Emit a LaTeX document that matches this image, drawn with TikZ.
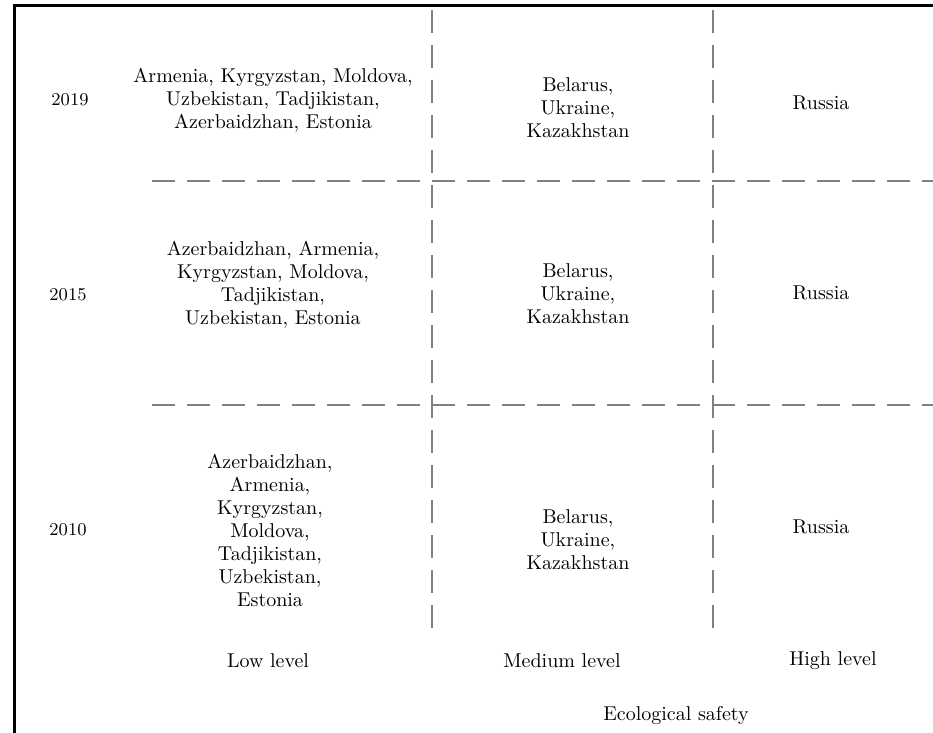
\documentclass[tikz,border=0pt]{standalone}
\usepackage{tikz}
\usetikzlibrary{positioning}
\begin{document}
\begin{tikzpicture}[
    x=0.5pt,y=-0.5pt,
    every node/.style={font=\fontsize{10}{11.5}\selectfont},
    cell/.style={align=center},
    year/.style={font=\small},
    level/.style={align=center},
    axis/.style={line width=1.5pt,black},
    grid/.style={line width=0.7pt,black!50,dash pattern=on 11.5pt off 6pt}
]
\useasboundingbox (0,0) rectangle (933,733);

% Axes
\draw[axis] (14,733) -- (14,6) -- (933,6);

% Dashed grid
\draw[grid] (432,10) -- (432,629);
\draw[grid] (713,10) -- (713,629);
\draw[grid] (152,181) -- (933,181);
\draw[grid] (152,405) -- (933,405);

% Years
\node[year] (y2019) at (70,100) {2019};
\node[year] (y2015) at (68,295) {2015};
\node[year] (y2010) at (68,530) {2010};

% Row 2019
\node[cell] (low2019)  at (273,100) {Armenia, Kyrgyzstan, Moldova,\\Uzbekistan, Tadjikistan,\\Azerbaidzhan, Estonia};
\node[cell] (mid2019)  at (578,108) {Belarus,\\Ukraine,\\Kazakhstan};
\node[cell] (high2019) at (821,103) {Russia};

% Row 2015
\node[cell] (low2015)  at (273,285) {Azerbaidzhan, Armenia,\\Kyrgyzstan, Moldova,\\Tadjikistan,\\Uzbekistan, Estonia};
\node[cell] (mid2015)  at (578,294) {Belarus,\\Ukraine,\\Kazakhstan};
\node[cell] (high2015) at (821,293) {Russia};

% Row 2010
\node[cell] (low2010)  at (270,530) {Azerbaidzhan,\\Armenia,\\Kyrgyzstan,\\Moldova,\\Tadjikistan,\\Uzbekistan,\\Estonia};
\node[cell] (mid2010)  at (578,540) {Belarus,\\Ukraine,\\Kazakhstan};
\node[cell] (high2010) at (821,527) {Russia};

% Levels and axis title
\node[level] (low)    at (268,661) {Low level};
\node[level] (medium) at (562,661) {Medium level};
\node[level] (high)   at (833,661) {High level};
\node[level] (safety) at (676,716) {Ecological safety};

\end{tikzpicture}
\end{document}
